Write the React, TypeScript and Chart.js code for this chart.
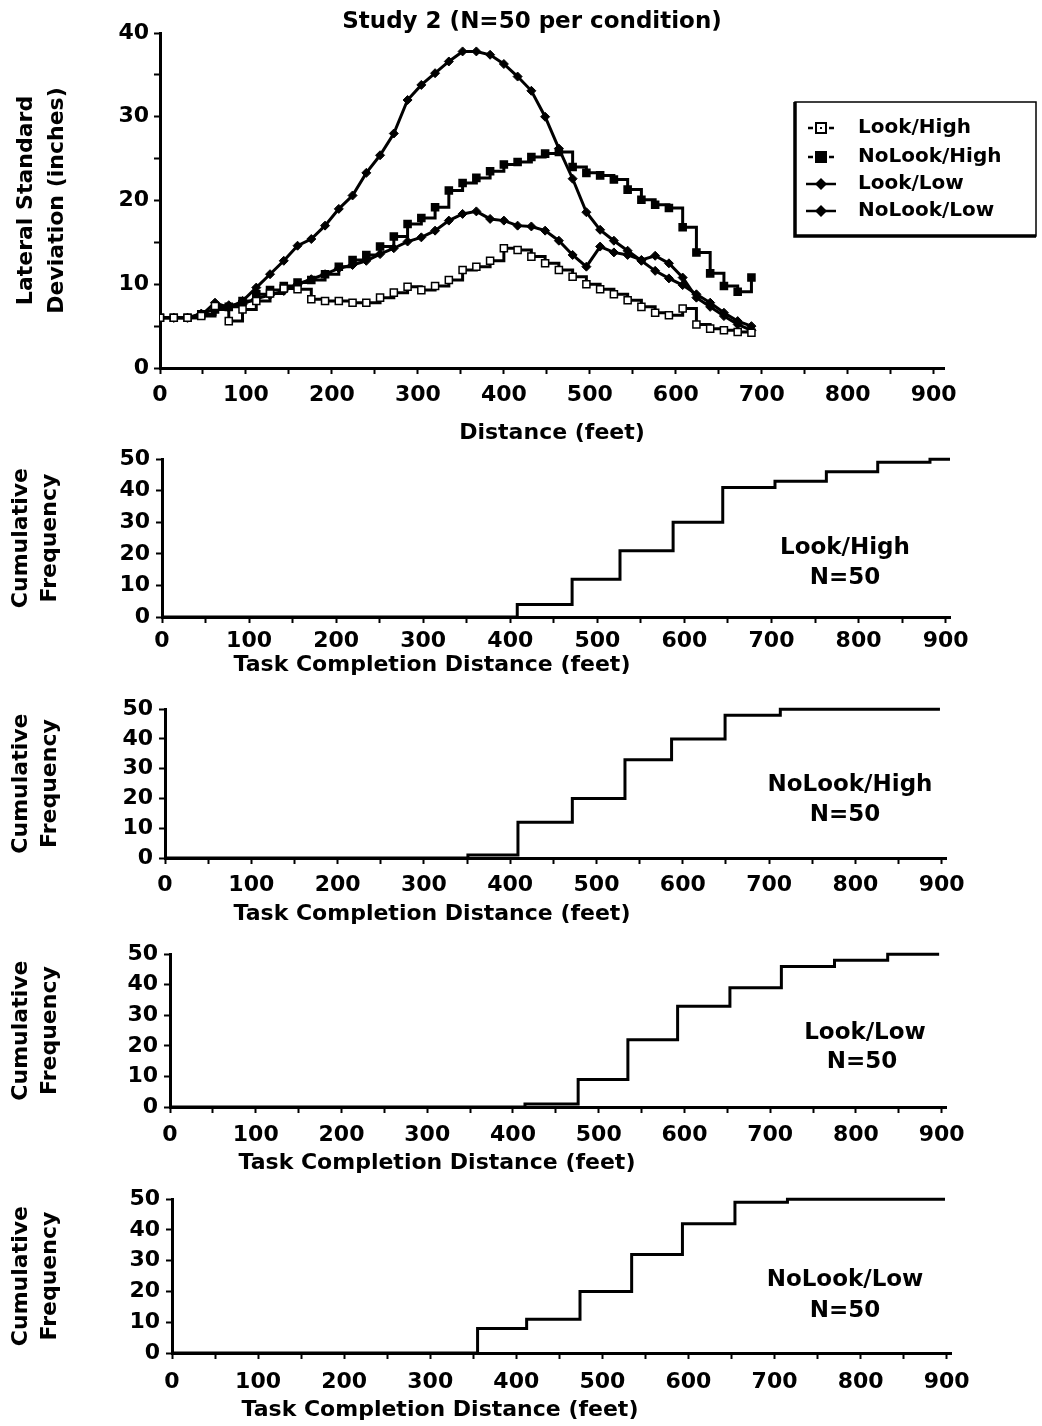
import React, { useEffect, useRef } from "react";
import { Chart, registerables } from "chart.js";

Chart.register(...registerables);

// ---------------- data ----------------
// Top panel: lateral standard deviation (inches) vs distance (feet)
const DISTANCE_FT = [
  0, 16, 32, 48, 64, 80, 96, 112, 128, 144, 160, 176, 192, 208, 224, 240, 256, 272, 288, 304, 320, 336,
  352, 368, 384, 400, 416, 432, 448, 464, 480, 496, 512, 528, 544, 560, 576, 592, 608, 624, 640, 656, 672, 688,
];
const LOOK_HIGH_SD = [
  6.0, 6.0, 6.0, 6.2, 7.4, 5.6, 7.0, 8.0, 8.9, 9.5, 9.4, 8.2, 8.0, 8.0, 7.8, 7.8, 8.4, 9.0, 9.7, 9.3, 9.8, 10.5,
  11.7, 12.1, 12.8, 14.3, 14.1, 13.3, 12.5, 11.7, 10.9, 10.0, 9.4, 8.8, 8.1, 7.3, 6.6, 6.3, 7.1, 5.2, 4.7, 4.5, 4.3, 4.2,
];
const NOLOOK_HIGH_SD = [
  6.0, 6.0, 6.0, 6.4, 7.0, 7.3, 8.0, 8.8, 9.3, 9.8, 10.2, 10.5, 11.2, 12.1, 12.9, 13.5, 14.5, 15.7, 17.2, 17.9, 19.2, 21.2,
  22.1, 22.7, 23.5, 24.3, 24.6, 25.2, 25.6, 25.8, 24.0, 23.3, 23.0, 22.5, 21.3, 20.1, 19.5, 19.1, 16.8, 13.8, 11.3, 9.8, 9.1, 10.8,
];
const LOOK_LOW_SD = [
  6.0, 6.0, 6.0, 6.5, 7.0, 7.5, 7.6, 8.3, 8.7, 9.2, 10.0, 10.6, 11.2, 11.9, 12.3, 12.8, 13.6, 14.3, 15.1, 15.6, 16.4, 17.6,
  18.4, 18.7, 17.8, 17.6, 17.0, 16.9, 16.4, 15.2, 13.5, 12.1, 14.5, 13.8, 13.5, 12.9, 13.4, 12.5, 10.8, 8.4, 7.3, 6.2, 5.2, 4.5,
];
const NOLOOK_LOW_SD = [
  6.0, 6.0, 6.0, 6.3, 7.8, 7.2, 8.0, 9.6, 11.2, 12.8, 14.6, 15.4, 17.0, 19.0, 20.6, 23.3, 25.4, 28.0, 32.0, 33.8, 35.2, 36.6,
  37.8, 37.8, 37.4, 36.3, 34.8, 33.1, 30.0, 26.2, 22.6, 18.6, 16.5, 15.2, 14.0, 12.8, 11.6, 10.7, 9.9, 8.8, 7.8, 6.6, 5.6, 5.0,
];

const SERIES_LABELS = ["Look/High", "NoLook/High", "Look/Low", "NoLook/Low"];

// Cumulative frequency panels: distance at which the count steps up, and the count
const LOOK_HIGH_CUM_FT = [0, 408, 471, 526, 587, 644, 704, 763, 822, 882, 905];
const LOOK_HIGH_CUM_N = [0, 4, 12, 21, 30, 41, 43, 46, 49, 50, 50];
const NOLOOK_HIGH_CUM_FT = [0, 351, 409, 472, 533, 587, 649, 713, 898];
const NOLOOK_HIGH_CUM_N = [0, 1, 12, 20, 33, 40, 48, 50, 50];
const LOOK_LOW_CUM_FT = [0, 414, 476, 534, 592, 653, 713, 775, 837, 897];
const LOOK_LOW_CUM_N = [0, 1, 9, 22, 33, 39, 46, 48, 50, 50];
const NOLOOK_LOW_CUM_FT = [0, 355, 412, 474, 534, 593, 654, 715, 898];
const NOLOOK_LOW_CUM_N = [0, 8, 11, 20, 32, 42, 49, 50, 50];

// Tick values
const X_TICKS_FT = [0, 50, 100, 150, 200, 250, 300, 350, 400, 450, 500, 550, 600, 650, 700, 750, 800, 850, 900];
const SD_TICKS = [0, 5, 10, 15, 20, 25, 30, 35, 40];
const FREQ_TICKS = [0, 10, 20, 30, 40, 50];

const TITLE_TEXT = "Study 2 (N=50 per condition)";
const TOP_X_TITLE = "Distance (feet)";
const TOP_Y_TITLE = ["Lateral Standard", "Deviation (inches)"];
const CUM_X_TITLE = "Task Completion Distance (feet)";
const CUM_Y_TITLE = ["Cumulative", "Frequency"];
const N_LABEL = "N=50";

// ---------------- helpers ----------------
const FONT = '"DejaVu Sans", "Liberation Sans", sans-serif';

const pts = (xs: number[], ys: number[]) => xs.map((x, i) => ({ x, y: ys[i] }));

type TextItem = { text: string; x: number; y: number; size: number; align?: CanvasTextAlign };

function makeTextPlugin(items: TextItem[]) {
  return {
    id: "freeTexts",
    afterDraw(chart: any) {
      const ctx = chart.ctx as CanvasRenderingContext2D;
      ctx.save();
      ctx.fillStyle = "#000";
      ctx.textBaseline = "middle";
      items.forEach((it) => {
        ctx.font = `bold ${it.size}px ${FONT}`;
        ctx.textAlign = it.align || "center";
        ctx.fillText(it.text, it.x, it.y);
      });
      ctx.restore();
    },
  };
}

function makeLegendPlugin(box: { left: number; top: number; right: number; bottom: number; rows: number[]; markX: number; textX: number }) {
  return {
    id: "boxLegend",
    afterDraw(chart: any) {
      const ctx = chart.ctx as CanvasRenderingContext2D;
      ctx.save();
      ctx.strokeStyle = "#000";
      ctx.lineWidth = 1.5;
      ctx.strokeRect(box.left, box.top, box.right - box.left, box.bottom - box.top);
      ctx.lineWidth = 3.5;
      ctx.beginPath();
      ctx.moveTo(box.left, box.top);
      ctx.lineTo(box.left, box.bottom);
      ctx.lineTo(box.right, box.bottom);
      ctx.stroke();
      chart.data.datasets.forEach((ds: any, i: number) => {
        const y = box.rows[i];
        const cx = box.markX;
        ctx.strokeStyle = "#000";
        ctx.lineWidth = 2.5;
        ctx.beginPath();
        if (ds.pointStyle === "rect") {
          ctx.moveTo(cx - 13, y);
          ctx.lineTo(cx - 8, y);
          ctx.moveTo(cx + 8, y);
          ctx.lineTo(cx + 13, y);
        } else {
          ctx.moveTo(cx - 15, y);
          ctx.lineTo(cx + 15, y);
        }
        ctx.stroke();
        ctx.lineWidth = 2;
        if (ds.pointStyle === "rect") {
          ctx.fillStyle = ds.pointBackgroundColor;
          ctx.fillRect(cx - 5, y - 5, 10, 10);
          ctx.strokeRect(cx - 5, y - 5, 10, 10);
          if (ds.pointBackgroundColor === "#fff") {
            ctx.fillStyle = "#000";
            ctx.fillRect(cx - 1, y - 1, 2, 2);
          }
        } else {
          ctx.fillStyle = "#000";
          ctx.beginPath();
          ctx.moveTo(cx, y - 6);
          ctx.lineTo(cx + 6, y);
          ctx.lineTo(cx, y + 6);
          ctx.lineTo(cx - 6, y);
          ctx.closePath();
          ctx.fill();
        }
        ctx.fillStyle = "#000";
        ctx.font = `bold 20px ${FONT}`;
        ctx.textAlign = "left";
        ctx.textBaseline = "middle";
        ctx.fillText(ds.label, box.textX, y);
      });
      ctx.restore();
    },
  };
}

const tickFont = { family: FONT, size: 22, weight: "bold" as const };

function xAxis(max: number, height: number, tickPad: number, title?: string) {
  return {
    type: "linear",
    position: "bottom",
    min: 0,
    max,
    afterBuildTicks: (s: any) => {
      s.ticks = X_TICKS_FT.map((v) => ({ value: v }));
    },
    afterFit: (s: any) => {
      s.height = height;
    },
    ticks: {
      autoSkip: false,
      maxRotation: 0,
      minRotation: 0,
      padding: tickPad,
      color: "#000",
      font: tickFont,
      callback: (v: any) => (Number(v) % 100 === 0 ? String(v) : ""),
    },
    grid: { display: true, drawOnChartArea: false, drawTicks: true, tickLength: 6, tickWidth: 2, tickColor: "#000" },
    border: { display: true, color: "#000", width: 3 },
    title: title
      ? {
          display: true,
          text: title,
          color: "#000",
          font: { family: FONT, size: 22, weight: "bold", lineHeight: 1.2 },
          padding: { top: 0, bottom: 6 },
        }
      : { display: false },
  };
}

function yAxis(max: number, ticks: number[], labelEvery: number, width: number, title: string[], size: number, lineHeight: number, titlePad: number, tickPad: number) {
  return {
    type: "linear",
    position: "left",
    min: 0,
    max,
    afterBuildTicks: (s: any) => {
      s.ticks = ticks.map((v) => ({ value: v }));
    },
    afterFit: (s: any) => {
      s.width = width;
    },
    ticks: {
      autoSkip: false,
      padding: tickPad,
      color: "#000",
      font: tickFont,
      callback: (v: any) => (Number(v) % labelEvery === 0 ? String(v) : ""),
    },
    grid: { display: true, drawOnChartArea: false, drawTicks: true, tickLength: 6, tickWidth: 2, tickColor: "#000" },
    border: { display: true, color: "#000", width: 3 },
    title: {
      display: true,
      text: title,
      color: "#000",
      font: { family: FONT, size, weight: "bold", lineHeight },
      padding: { top: titlePad, bottom: 0 },
    },
  };
}

const baseOptions = {
  responsive: false,
  maintainAspectRatio: false,
  animation: false,
  devicePixelRatio: 1,
  events: [],
};

// ---------------- chart configs ----------------
function topConfig(): any {
  const square = (label: string, ys: number[], fill: string) => ({
    label,
    data: pts(DISTANCE_FT, ys),
    stepped: "before",
    borderColor: "#000",
    borderWidth: 3,
    pointStyle: "rect",
    pointRadius: 5,
    pointBackgroundColor: fill,
    pointBorderColor: "#000",
    pointBorderWidth: 1.5,
  });
  const diamond = (label: string, ys: number[]) => ({
    label,
    data: pts(DISTANCE_FT, ys),
    borderColor: "#000",
    borderWidth: 3,
    pointStyle: "rectRot",
    pointRadius: 4.5,
    pointBackgroundColor: "#000",
    pointBorderColor: "#000",
    pointBorderWidth: 1,
  });
  return {
    type: "line",
    data: {
      datasets: [
        square(SERIES_LABELS[0], LOOK_HIGH_SD, "#fff"),
        square(SERIES_LABELS[1], NOLOOK_HIGH_SD, "#000"),
        diamond(SERIES_LABELS[2], LOOK_LOW_SD),
        diamond(SERIES_LABELS[3], NOLOOK_LOW_SD),
      ],
    },
    options: {
      ...baseOptions,
      layout: { padding: { left: 0, top: 33, right: 98, bottom: 0 } },
      plugins: { legend: { display: false }, tooltip: { enabled: false }, title: { display: false } },
      scales: {
        x: xAxis(912, 84, 8, TOP_X_TITLE),
        y: yAxis(40, SD_TICKS, 10, 160, TOP_Y_TITLE, 22, 1.4, 11, 5),
      },
    },
    plugins: [
      makeTextPlugin([{ text: TITLE_TEXT, x: 532, y: 22, size: 23 }]),
      makeLegendPlugin({ left: 795, top: 102, right: 1036, bottom: 236, rows: [128, 157, 184, 211], markX: 821, textX: 858 }),
    ],
  };
}

type CumSpec = {
  xs: number[];
  ns: number[];
  name: string;
  top: number; // canvas top on page
  height: number;
  areaLeft: number;
  areaRight: number;
  areaTop: number;
  areaBottom: number;
  tickPad: number;
  xTitle: { x: number; y: number };
  name1: { x: number; y: number };
  name2: { x: number; y: number };
};

function cumConfig(s: CumSpec): any {
  return {
    type: "line",
    data: {
      datasets: [
        {
          label: s.name,
          data: pts(s.xs, s.ns),
          stepped: "before",
          borderColor: "#000",
          borderWidth: 3,
          pointRadius: 0,
          clip: 8,
        },
      ],
    },
    options: {
      ...baseOptions,
      layout: { padding: { left: 0, top: s.areaTop - s.top, right: 1042 - s.areaRight, bottom: 0 } },
      plugins: { legend: { display: false }, tooltip: { enabled: false }, title: { display: false } },
      scales: {
        x: xAxis(905, s.top + s.height - s.areaBottom, s.tickPad),
        y: yAxis(50, FREQ_TICKS, 10, s.areaLeft, CUM_Y_TITLE, 22, 1.3, 7, 6),
      },
    },
    plugins: [
      makeTextPlugin([
        { text: CUM_X_TITLE, x: s.xTitle.x, y: s.xTitle.y, size: 22 },
        { text: s.name, x: s.name1.x, y: s.name1.y, size: 23 },
        { text: N_LABEL, x: s.name2.x, y: s.name2.y, size: 23 },
      ]),
    ],
  };
}

const CUM_SPECS: CumSpec[] = [
  {
    xs: LOOK_HIGH_CUM_FT, ns: LOOK_HIGH_CUM_N, name: SERIES_LABELS[0],
    top: 440, height: 250, areaLeft: 162, areaRight: 950, areaTop: 450, areaBottom: 617, tickPad: 5,
    xTitle: { x: 432, y: 225 }, name1: { x: 845, y: 108 }, name2: { x: 845, y: 138 },
  },
  {
    xs: NOLOOK_HIGH_CUM_FT, ns: NOLOOK_HIGH_CUM_N, name: SERIES_LABELS[1],
    top: 690, height: 245, areaLeft: 165, areaRight: 946, areaTop: 697, areaBottom: 858, tickPad: 8,
    xTitle: { x: 432, y: 224 }, name1: { x: 850, y: 95 }, name2: { x: 845, y: 125 },
  },
  {
    xs: LOOK_LOW_CUM_FT, ns: LOOK_LOW_CUM_N, name: SERIES_LABELS[2],
    top: 935, height: 245, areaLeft: 170, areaRight: 946, areaTop: 940, areaBottom: 1107, tickPad: 9,
    xTitle: { x: 437, y: 228 }, name1: { x: 865, y: 98 }, name2: { x: 862, y: 127 },
  },
  {
    xs: NOLOOK_LOW_CUM_FT, ns: NOLOOK_LOW_CUM_N, name: SERIES_LABELS[3],
    top: 1180, height: 246, areaLeft: 172, areaRight: 951, areaTop: 1185, areaBottom: 1353, tickPad: 10,
    xTitle: { x: 440, y: 230 }, name1: { x: 845, y: 100 }, name2: { x: 845, y: 131 },
  },
];

// ---------------- components ----------------
function ChartCanvas({ top, height, make }: { top: number; height: number; make: () => any }) {
  const ref = useRef<HTMLCanvasElement | null>(null);
  useEffect(() => {
    if (!ref.current) return;
    const chart = new Chart(ref.current, make());
    return () => chart.destroy();
  }, []);
  return (
    <canvas
      ref={ref}
      width={1042}
      height={height}
      style={{ position: "absolute", left: 0, top, width: 1042, height, display: "block" }}
    />
  );
}

export default function App() {
  return (
    <div style={{ position: "absolute", left: 0, top: 0, width: 1042, height: 1426, overflow: "hidden", background: "#fff" }}>
      <ChartCanvas top={0} height={452} make={topConfig} />
      {CUM_SPECS.map((s, i) => (
        <ChartCanvas key={i} top={s.top} height={s.height} make={() => cumConfig(s)} />
      ))}
    </div>
  );
}
